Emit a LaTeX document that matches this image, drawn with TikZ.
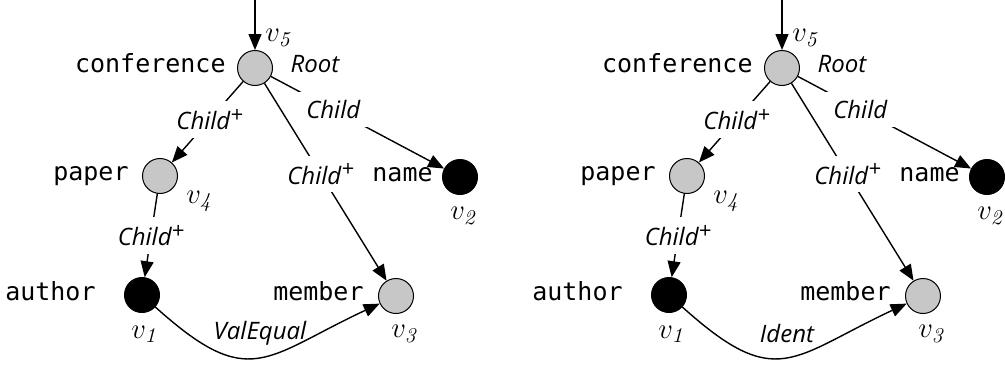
\documentclass[tikz,border=0pt]{standalone}
\usepackage{fontspec}
\setmonofont{DejaVu Sans Mono}
\newfontfamily\edgefont{Open Sans}
\usetikzlibrary{arrows.meta, positioning}

\newcommand{\plus}{\raisebox{.55ex}{\fontsize{11}{11}\selectfont+}}

\begin{document}
\begin{tikzpicture}[x=0.5pt, y=-0.5pt, every node/.style={inner sep=0pt},
    vert/.style={circle, draw, line width=0.5pt, fill=black!22, minimum size=17.5pt},
    leaf/.style={vert, fill=black},
    tag/.style={anchor=mid east, font=\ttfamily\fontsize{12.5}{14}\selectfont},
    rel/.style={font=\edgefont\itshape\fontsize{12}{14}\selectfont},
    relcut/.style={rel, fill=white, inner sep=4pt},
    vlab/.style={font=\fontsize{15}{16}\selectfont},
    hop/.style={line width=0.7pt, -{Triangle[length=8pt, width=6.5pt]}}]
  \useasboundingbox (0,0) rectangle (1005,364);
  \foreach \i/\dx/\kind in {a/0/ValEqual, b/527/Ident} {
    % pattern vertices
    \node[vert] (v5\i) at (\dx+255,68) {};
    \node[vert] (v4\i) at (\dx+160,176) {};
    \node[leaf] (v2\i) at (\dx+460,177) {};
    \node[leaf] (v1\i) at (\dx+142,295) {};
    \node[vert] (v3\i) at (\dx+396,296) {};
    % tags and vertex names
    \node[tag] (t5\i) at (\dx+226,68) {conference};
    \node[tag] (t4\i) at (\dx+129,176) {paper};
    \node[tag] (t2\i) at (\dx+433,177) {name};
    \node[tag] (t1\i) at (\dx+96,296) {author};
    \node[tag] (t3\i) at (\dx+364,296) {member};
    \node[vlab] (n5\i) at (\dx+278,38) {$v_{\mathit{5}}$};
    \node[vlab] (n4\i) at (\dx+199,201) {$v_{\mathit{4}}$};
    \node[vlab] (n2\i) at (\dx+463,216) {$v_{\mathit{2}}$};
    \node[vlab] (n1\i) at (\dx+144,334) {$v_{\mathit{1}}$};
    \node[vlab] (n3\i) at (\dx+404,334) {$v_{\mathit{3}}$};
    \node[rel] (root\i) at (\dx+315,64) {Root};
    % edges
    \coordinate (in\i) at (\dx+255,0);
    \draw[hop] (in\i) -- (v5\i);
    \draw[hop] (v5\i) -- node[relcut, pos=0.47] {Child\plus} (v4\i);
    \draw[hop] (v5\i) -- node[relcut, pos=0.46] {Child\plus} (v3\i);
    \draw[hop] (v5\i) -- node[relcut, pos=0.36] {Child} (v2\i);
    \draw[hop] (v4\i) -- node[relcut, pos=0.5] {Child\plus} (v1\i);
    \draw[hop] (v1\i) to[out=-42, in=-155, looseness=1.45] (v3\i);
    \node[rel] (k\i) at (\dx+260,333) {\kind};
  }
\end{tikzpicture}
\end{document}
